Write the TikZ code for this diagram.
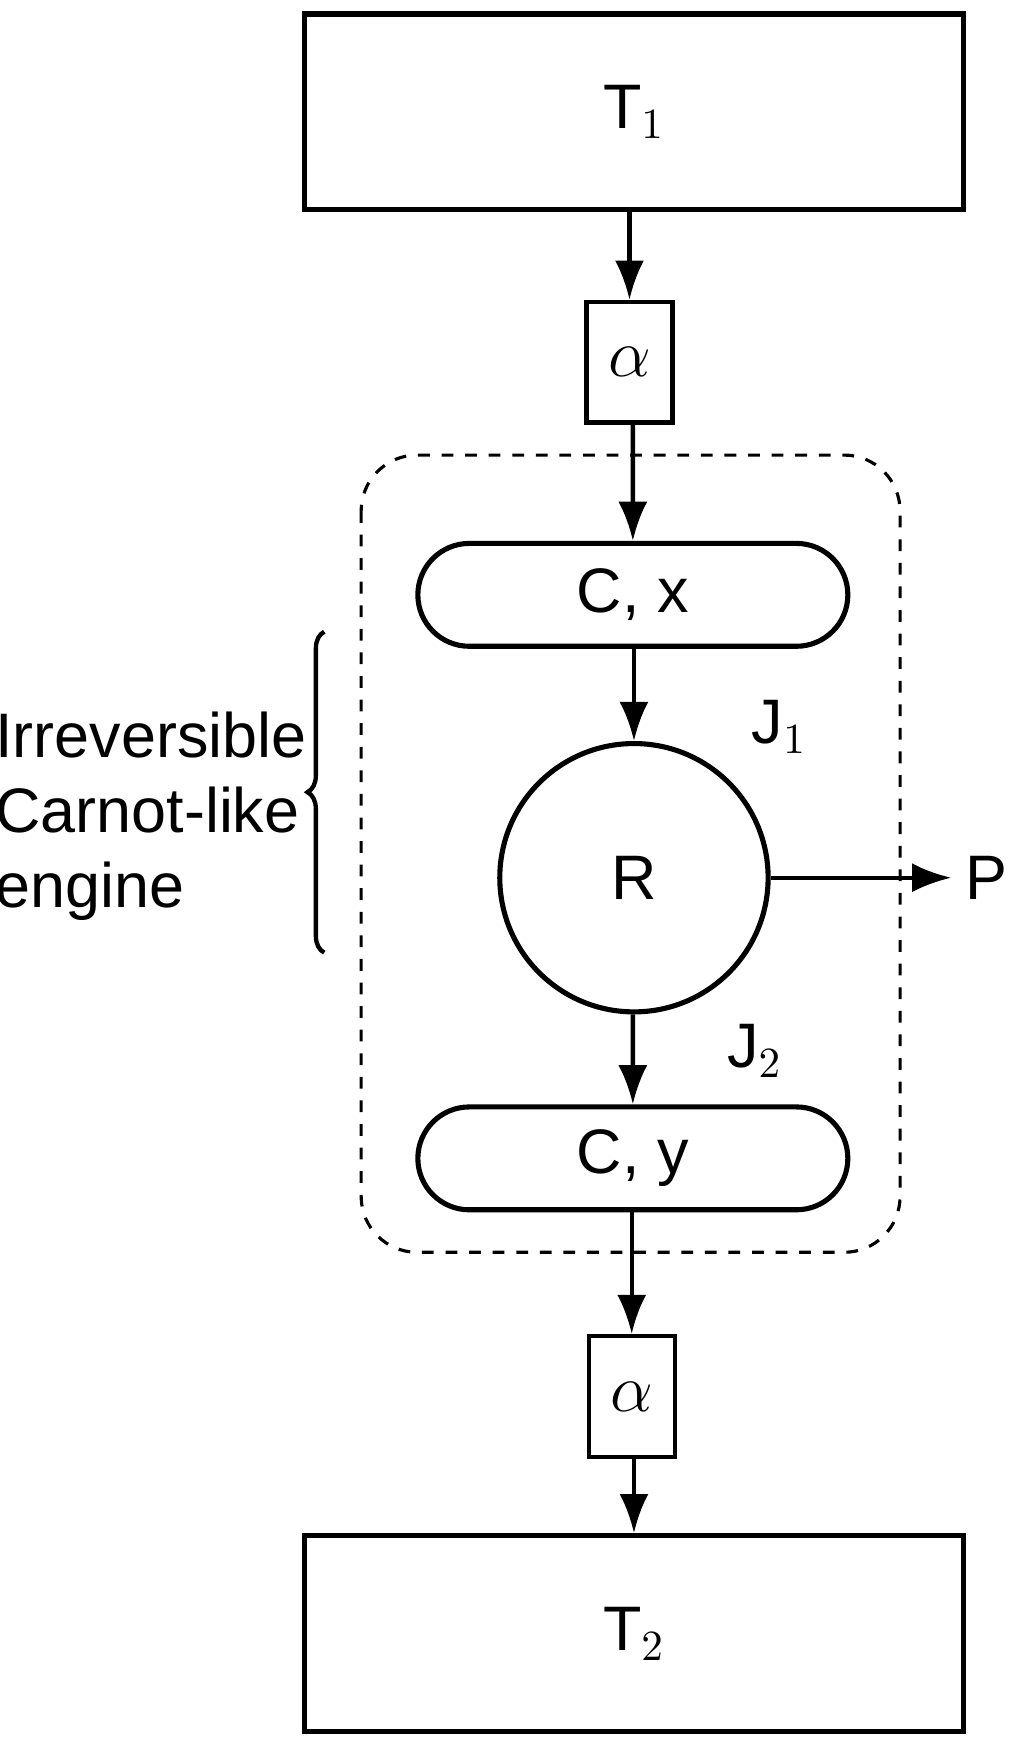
\documentclass[tikz,border=0pt]{standalone}
\usepackage{fontspec}
\setmainfont{Liberation Sans}
\usetikzlibrary{positioning,shapes.misc,arrows.meta,decorations.pathreplacing}

\begin{document}
\begin{tikzpicture}[x=1cm,y=-1cm, >={Latex[length=3.5mm,width=2.6mm]},
  every node/.style={font=\fontsize{16}{19}\selectfont},
  reservoir/.style={draw, line width=1.3pt, minimum width=5.9cm, minimum height=1.75cm},
  resist/.style={draw, line width=1.1pt, minimum width=0.77cm, minimum height=1.08cm},
  pill/.style={draw, rounded rectangle, line width=1.3pt, minimum width=4.08cm, minimum height=0.92cm},
  flow/.style={->, line width=1.1pt}]
  \useasboundingbox (0,0) rectangle (9.16,15.58);

  \node[reservoir] (t1) at (5.67,1.00) {T$_1$};
  \node[resist] (a1) at (5.63,3.24) {$\alpha$};
  \node[pill] (cx) at (5.66,5.32) {C, x};
  \node[draw, circle, line width=1.3pt, minimum size=2.4cm] (r) at (5.67,7.85) {R};
  \node[pill] (cy) at (5.66,10.36) {C, y};
  \node[resist] (a2) at (5.65,12.49) {$\alpha$};
  \node[reservoir] (t2) at (5.67,14.61) {T$_2$};

  \node (j1) at (6.97,6.50) {J$_1$};
  \node (j2) at (6.75,9.40) {J$_2$};
  \node (p) at (8.82,7.85) {P};
  \node[align=left] (lbl) at (1.35,7.30) {Irreversible\\Carnot-like\\engine};

  % engine boundary
  \draw[dashed, line width=0.8pt, rounded corners=0.5cm] (3.23,4.07) rectangle (8.05,11.20);
  \draw[line width=1.1pt, decorate, decoration={brace, amplitude=0.15cm}]
    (2.90,8.52) -- (2.90,5.65);

  \draw[flow] (t1.south -| a1) -- (a1);
  \draw[flow] (a1.south -| cx) -- (cx);
  \draw[flow] (cx.south -| r) -- (r);
  \draw[flow] (r.south -| cy) -- (cy);
  \draw[flow] (cy.south -| a2) -- (a2);
  \draw[flow] (a2.south -| t2) -- (t2);
  \draw[flow] (r) -- (p);
\end{tikzpicture}
\end{document}
